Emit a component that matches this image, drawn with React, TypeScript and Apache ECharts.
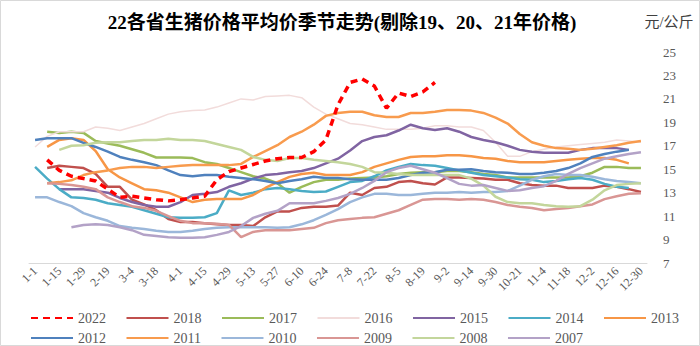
import React, { useEffect, useRef } from "react";
import * as echarts from "echarts";

const categories = [
  "1-1", "1-8", "1-15", "1-22", "1-29", "2-8", "2-19", "2-26", "3-4", "3-11",
  "3-18", "3-25", "4-1", "4-8", "4-15", "4-22", "4-29", "5-6", "5-13", "5-20",
  "5-27", "6-3", "6-10", "6-17", "6-24", "7-1", "7-8", "7-15", "7-22", "7-29",
  "8-5", "8-12", "8-19", "8-26", "9-2", "9-8", "9-14", "9-23", "9-30", "10-14",
  "10-21", "10-28", "11-4", "11-11", "11-18", "11-25", "12-2", "12-9", "12-16", "12-23",
  "12-30",
];

const y2022 = [null, 15.8, 14.9, 14.4, 14.2, 14.0, 13.3, 12.6, 12.7, 12.55, 12.4, 12.3, 12.4, 12.55, 12.7, 14.1, 14.8, 15.1, 15.4, 15.7, 15.9, 16.0, 16.0, 16.5, 17.5, 20.5, 22.4, 22.7, 22.1, 20.2, 21.5, 21.2, 21.6, 22.4,
  null, null, null, null, null, null, null, null, null, null, null, null, null, null, null, null, null];
const y2018 = [null, 15.1, 15.3, 15.2, 15.1, 14.6, 13.5, 13.5, 12.4, 12.0, 11.5, 10.75, 10.5, 10.5, 10.4, 10.3, 10.25, 10.25, 10.15, 10.9, 11.4, 11.4, 11.7, 11.8, 11.8, 11.9, 13.0, 12.8, 13.4, 13.5, 13.9, 14.0, 13.8, 13.7, 14.3, 14.3, 14.25, 14.2, 14.1, 14.1, 13.8, 13.65, 13.6, 13.6, 13.4, 13.4, 13.4, 13.6, 13.5, 13.3, 13.05];
const y2017 = [null, 18.2, 18.1, 18.2, 18.1, 17.4, 17.2, 17.0, 16.7, 16.4, 16.0, 16.0, 16.0, 15.95, 15.6, 15.45, 15.1, 14.75, 14.4, 14.2, 13.8, 13.0, 13.5, 13.9, 14.1, 14.1, 14.2, 14.25, 14.3, 14.4, 14.6, 14.7, 14.75, 14.75, 14.85, 14.85, 14.75, 14.6, 14.5, 14.3, 14.3, 14.3, 14.3, 14.3, 14.3, 14.4, 14.7, 15.2, 15.2, 15.1, 15.1];
const y2016 = [16.9, 17.8, 18.2, 18.2, 18.2, 18.6, 18.5, 18.3, 18.6, 18.9, 19.3, 19.7, 19.9, 20.0, 20.05, 20.3, 20.65, 21.0, 20.9, 21.2, 21.25, 21.3, 21.1, 20.3, 19.7, 19.3, 18.9, 18.8, 18.6, 18.4, 18.4, 18.4, 18.5, 18.7, 18.7, 18.6, 18.6, 18.3, 17.3, 16.1, 16.1, 16.5, 16.7, 16.9, 17.0, 17.1, 17.2, 17.3, 17.5, 17.4, 17.3];
const y2015 = [null, null, 13.3, 13.3, 13.3, 13.15, 13.0, 12.55, 12.2, 11.95, 11.8, 11.8, 12.2, 12.8, 12.9, 13.05, 13.5, 13.8, 14.2, 14.5, 14.6, 14.75, 14.85, 15.1, 15.5, 15.9, 16.6, 17.4, 17.75, 17.9, 18.3, 18.8, 18.5, 18.35, 18.5, 18.2, 17.75, 17.5, 17.3, 17.0, 16.65, 16.5, 16.4, 16.4, 16.4, 16.65, 16.8, 16.8, 16.8, 16.65, null];
const y2014 = [15.2, 14.2, 13.3, 12.6, 12.55, 12.4, 12.1, 11.95, 11.8, 11.5, 11.2, 10.9, 10.85, 10.85, 10.9, 11.25, 13.2, 12.8, 13.0, 13.3, 13.4, 13.3, 13.15, 13.05, 13.1, 13.5, 13.9, 14.0, 14.4, 14.9, 15.2, 15.45, 15.35, 15.3, 15.1, 14.9, 14.7, 14.5, 14.4, 14.3, 14.15, 14.1, 13.9, 14.0, 14.15, 14.25, 14.1, 13.75, 13.5, 13.4, null];
const y2013 = [null, 16.9, 17.5, 17.65, 17.5, 16.55, 15.0, 14.3, 13.8, 13.3, 13.2, 13.0, 12.6, 12.2, 12.4, 12.45, 12.45, 12.45, 12.8, 13.4, 13.9, 14.35, 14.6, 14.7, 14.5, 14.5, 14.5, 14.75, 15.2, 15.5, 15.8, 16.05, 16.1, 16.1, 16.2, 16.2, 16.1, 15.95, 15.9, 15.7, 15.6, 15.6, 15.6, 15.7, 15.8, 15.9, 15.95, 15.95, 15.8, 15.5, null];
const y2012 = [17.5, 17.65, 17.65, 17.65, 17.25, 16.9, 16.5, 16.05, 15.8, 15.6, 15.35, 14.9, 14.5, 14.4, 14.5, 14.5, 14.35, 14.25, 14.15, 14.0, 13.8, 14.0, 14.15, 14.35, 14.25, 14.25, 14.15, 14.1, 14.1, 14.1, 14.25, 14.5, 14.7, 14.75, 14.95, 14.95, 15.0, 14.85, 14.75, 14.7, 14.6, 14.6, 14.7, 14.85, 15.1, 15.5, 16.05, 16.3, 16.5, 16.65, null];
const y2011 = [null, 13.8, 13.9, 14.05, 14.5, 14.75, 14.9, 15.1, 15.2, 15.2, 15.1, 15.2, 15.3, 15.35, 15.35, 15.35, 15.35, 15.45, 16.05, 16.55, 17.05, 17.75, 18.2, 18.8, 19.55, 19.8, 19.9, 19.9, 19.6, 19.45, 19.45, 19.8, 19.8, 19.9, 20.05, 20.05, 20.0, 19.8, 19.4, 18.9, 18.0, 17.3, 17.0, 16.8, 16.75, 16.65, 16.75, 16.9, 17.05, 17.25, 17.4];
const y2010 = [12.6, 12.6, 12.2, 11.85, 11.25, 10.9, 10.6, 10.15, 10.0, 9.9, 9.75, 9.65, 9.65, 9.75, 9.9, 10.0, 10.05, 10.05, 10.05, 10.05, 10.0, 10.05, 10.3, 10.65, 11.1, 11.6, 12.2, 12.6, 12.9, 12.9, 12.8, 12.8, 12.9, 13.0, 13.0, 13.05, 13.0, 13.05, 13.05, 13.15, 13.6, 14.1, 14.4, 14.6, 14.5, 14.5, 14.35, 14.15, 14.0, 13.9, 13.8];
const y2009 = [null, 13.8, 13.75, 13.65, 13.5, 13.3, 12.6, 12.2, 11.85, 11.7, 11.45, 11.0, 10.6, 10.4, 10.4, 10.35, 10.25, 9.2, 9.65, 9.8, 9.8, 9.8, 9.9, 10.0, 10.4, 10.65, 10.75, 10.85, 10.9, 11.2, 11.5, 11.95, 12.4, 12.45, 12.45, 12.4, 12.45, 12.4, 12.2, 11.95, 11.8, 11.7, 11.5, 11.6, 11.7, 11.85, 12.0, 12.45, 12.7, 12.9, 12.95];
const y2008 = [null, null, 16.65, 17.0, 17.05, 17.25, 17.3, 17.3, 17.4, 17.5, 17.5, 17.6, 17.5, 17.5, 17.4, 17.15, 16.9, 16.65, 16.05, 15.8, 15.7, 15.95, 15.95, 15.8, 15.7, 15.6, 15.45, 15.2, 14.75, 14.7, 14.6, 14.5, 14.5, 14.5, 14.5, 14.5, 14.2, 13.6, 12.65, 12.2, 12.1, 12.1, 11.95, 11.85, 11.8, 11.85, 12.4, 13.2, 13.65, 13.75, 13.8];
const y2007 = [null, null, null, 10.05, 10.25, 10.3, 10.25, 10.05, 9.8, 9.4, 9.3, 9.2, 9.15, 9.15, 9.2, 9.4, 9.65, 10.15, 10.85, 11.2, 11.45, 12.1, 12.1, 12.1, 12.3, 12.55, 12.9, 13.4, 14.0, 14.75, 15.1, 15.3, 15.0, 14.7, 14.25, 13.75, 13.6, 13.65, 13.4, 13.15, 13.2, 13.4, 13.55, 14.0, 14.6, 15.1, 15.5, 15.9, 16.1, 16.3, 16.45];

const seriesNames = ["2022", "2018", "2017", "2016", "2015", "2014", "2013", "2012", "2011", "2010", "2009", "2008", "2007"];
const seriesData = [y2022, y2018, y2017, y2016, y2015, y2014, y2013, y2012, y2011, y2010, y2009, y2008, y2007];
const seriesColors = ["#FF0000", "#C0504D", "#9BBB59", "#F2DCDB", "#8064A2", "#4BACC6", "#F79646", "#4F81BD", "#F89B4E", "#9BB7DA", "#D99694", "#C3D69B", "#B3A2C7"];

const yTicks = { min: 7, max: 25, interval: 2 };
const titleText = "22各省生猪价格平均价季节走势(剔除19、20、21年价格)";
const unitText = "元/公斤";

const SERIF = "'Liberation Serif', 'Times New Roman', 'Noto Sans CJK SC', serif";

export default function App() {
  const ref = useRef<HTMLDivElement>(null);
  useEffect(() => {
    if (!ref.current) return;
    const chart = echarts.init(ref.current, undefined, { renderer: "svg" });
    const series = seriesNames.map((name, i) => ({
      name,
      type: "line",
      data: seriesData[i],
      symbol: "none",
      smooth: false,
      z: i === 0 ? 5 : 2,
      lineStyle: {
        color: seriesColors[i],
        width: i === 0 ? 3.5 : i === 3 ? 1.5 : 2.5,
        type: i === 0 ? [7, 5] : "solid",
      },
      itemStyle: { color: seriesColors[i] },
    }));
    const legendBase = {
      left: 25,
      itemWidth: 42,
      itemHeight: 14,
      itemGap: 19.5,
      itemStyle: { opacity: 0, borderWidth: 0 },
      textStyle: { fontFamily: SERIF, fontSize: 14, color: "#595959" },
      selectedMode: false,
    };
    chart.setOption({
      animation: false,
      backgroundColor: "#ffffff",
      grid: { left: 29, right: 53, top: 52, bottom: 83, containLabel: false },
      legend: [
        { ...legendBase, top: 306, data: seriesNames.slice(0, 7) },
        { ...legendBase, top: 326, data: seriesNames.slice(7) },
      ],
      xAxis: {
        type: "category",
        data: categories,
        boundaryGap: true,
        axisLine: { show: true, lineStyle: { color: "#D9D9D9", width: 1 } },
        axisTick: { show: false },
        splitLine: { show: false },
        axisLabel: {
          interval: 1,
          rotate: 45,
          margin: 6,
          fontFamily: SERIF,
          fontSize: 12,
          color: "#595959",
        },
      },
      yAxis: {
        type: "value",
        position: "right",
        min: yTicks.min,
        max: yTicks.max,
        interval: yTicks.interval,
        axisLine: { show: false },
        axisTick: { show: false },
        splitLine: { show: false },
        axisLabel: {
          margin: 16,
          fontFamily: SERIF,
          fontSize: 13,
          color: "#595959",
          align: "left",
        },
      },
      graphic: [
        {
          type: "rect",
          shape: { x: 0.5, y: 0.5, width: 699, height: 345 },
          style: { fill: "none", stroke: "#D9D9D9", lineWidth: 1 },
          silent: true,
        },
        {
          type: "text",
          x: 342,
          y: 22,
          style: {
            text: titleText,
            fontFamily: SERIF,
            fontSize: 19,
            fontWeight: "bold",
            fill: "#000000",
            textAlign: "center",
            textVerticalAlign: "middle",
          },
        },
        {
          type: "text",
          x: 669,
          y: 22,
          style: {
            text: unitText,
            fontFamily: SERIF,
            fontSize: 15,
            fill: "#404040",
            textAlign: "center",
            textVerticalAlign: "middle",
          },
        },
      ],
      series,
    });
    return () => chart.dispose();
  }, []);
  return (
    <div
      ref={ref}
      style={{ position: "fixed", left: 0, top: 0, width: 700, height: 346, background: "#fff" }}
    />
  );
}
